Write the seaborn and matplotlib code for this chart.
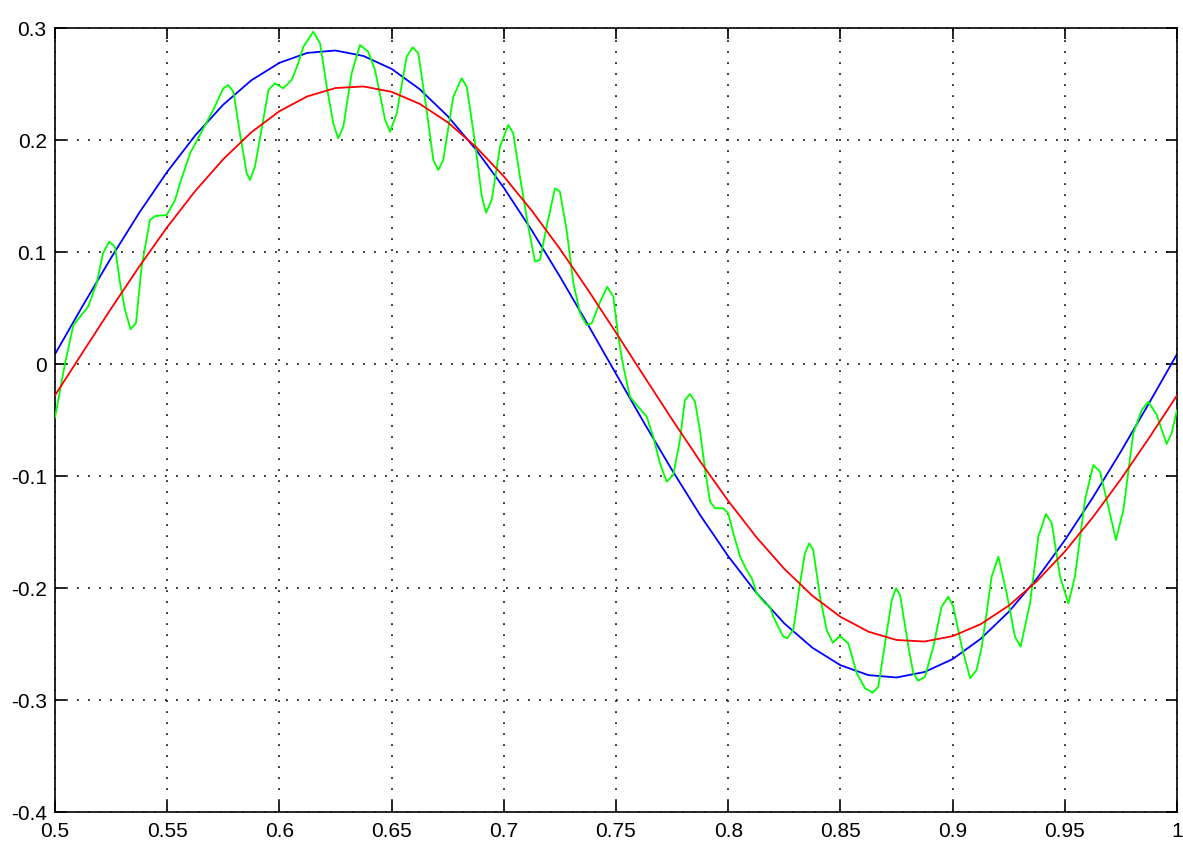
import matplotlib
matplotlib.use("Agg")
import matplotlib.pyplot as plt
import numpy as np
import seaborn as sns

# values
t_smooth = [0.5 + k * 0.0125 for k in range(41)]

blue_y = [0.0088, 0.0525, 0.0948, 0.1349, 0.1716, 0.2041, 0.2316, 0.2533,
          0.2689, 0.2778, 0.2799, 0.2750, 0.2635, 0.2454, 0.2213, 0.1917,
          0.1574, 0.1192, 0.0781, 0.0351, -0.0088, -0.0525, -0.0948, -0.1349,
          -0.1716, -0.2041, -0.2316, -0.2533, -0.2689, -0.2778, -0.2799,
          -0.2750, -0.2635, -0.2454, -0.2213, -0.1917, -0.1574, -0.1192,
          -0.0781, -0.0351, 0.0088]

red_y = [-0.0280, 0.0109, 0.0495, 0.0869, 0.1222, 0.1545, 0.1829, 0.2069,
         0.2257, 0.2390, 0.2464, 0.2478, 0.2430, 0.2323, 0.2158, 0.1940,
         0.1675, 0.1368, 0.1028, 0.0662, 0.0280, -0.0109, -0.0495, -0.0869,
         -0.1222, -0.1545, -0.1829, -0.2069, -0.2257, -0.2390, -0.2464,
         -0.2478, -0.2430, -0.2323, -0.2158, -0.1940, -0.1675, -0.1368,
         -0.1028, -0.0662, -0.0280]

green_t = [0.5000, 0.5045, 0.5082, 0.5148, 0.5186, 0.5214, 0.5242, 0.5267,
           0.5290, 0.5312, 0.5337, 0.5361, 0.5386, 0.5423, 0.5446, 0.5498,
           0.5535, 0.5557, 0.5602, 0.5705, 0.5750, 0.5772, 0.5795, 0.5824,
           0.5854, 0.5869, 0.5891, 0.5928, 0.5951, 0.5980, 0.6017, 0.6055,
           0.6084, 0.6107, 0.6151, 0.6181, 0.6211, 0.6240, 0.6262, 0.6285,
           0.6322, 0.6359, 0.6396, 0.6426, 0.6441, 0.6471, 0.6493, 0.6523,
           0.6567, 0.6594, 0.6619, 0.6656, 0.6686, 0.6708, 0.6730, 0.6775,
           0.6812, 0.6835, 0.6872, 0.6902, 0.6921, 0.6946, 0.6983, 0.7020,
           0.7042, 0.7072, 0.7109, 0.7139, 0.7161, 0.7191, 0.7228, 0.7250,
           0.7280, 0.7310, 0.7340, 0.7369, 0.7392, 0.7429, 0.7461, 0.7488,
           0.7510, 0.7533, 0.7562, 0.7592, 0.7637, 0.7666, 0.7696, 0.7726,
           0.7755, 0.7785, 0.7807, 0.7830, 0.7852, 0.7874, 0.7897, 0.7919,
           0.7941, 0.7978, 0.8000, 0.8023, 0.8053, 0.8082, 0.8105, 0.8127,
           0.8164, 0.8186, 0.8201, 0.8223, 0.8246, 0.8263, 0.8290, 0.8320,
           0.8342, 0.8361, 0.8379, 0.8409, 0.8439, 0.8466, 0.8498, 0.8535,
           0.8573, 0.8610, 0.8644, 0.8669, 0.8706, 0.8729, 0.8748, 0.8766,
           0.8803, 0.8825, 0.8847, 0.8877, 0.8914, 0.8951, 0.8981, 0.9003,
           0.9041, 0.9078, 0.9107, 0.9130, 0.9174, 0.9204, 0.9241, 0.9278,
           0.9303, 0.9345, 0.9382, 0.9416, 0.9442, 0.9479, 0.9516, 0.9545,
           0.9590, 0.9627, 0.9657, 0.9694, 0.9728, 0.9761, 0.9805, 0.9843,
           0.9872, 0.9910, 0.9932, 0.9954, 0.9976, 1.0000]

green_y = [-0.0480, 0.0009, 0.0348, 0.0512, 0.0723, 0.0991, 0.1092, 0.1047,
           0.0723, 0.0482, 0.0310, 0.0366, 0.0869, 0.1286, 0.1321, 0.1330,
           0.1464, 0.1613, 0.1881, 0.2268, 0.2462, 0.2491, 0.2431, 0.2060,
           0.1703, 0.1643, 0.1762, 0.2179, 0.2446, 0.2506, 0.2462, 0.2536,
           0.2685, 0.2833, 0.2967, 0.2863, 0.2476, 0.2149, 0.2015, 0.2119,
           0.2596, 0.2848, 0.2788, 0.2625, 0.2476, 0.2179, 0.2074, 0.2238,
           0.2744, 0.2828, 0.2774, 0.2268, 0.1821, 0.1732, 0.1821, 0.2387,
           0.2551, 0.2476, 0.1971, 0.1494, 0.1351, 0.1464, 0.1940, 0.2134,
           0.2060, 0.1672, 0.1226, 0.0915, 0.0929, 0.1226, 0.1569, 0.1539,
           0.1196, 0.0721, 0.0453, 0.0348, 0.0363, 0.0556, 0.0690, 0.0601,
           0.0244, -0.0024, -0.0292, -0.0366, -0.0471, -0.0649, -0.0887, -0.1051,
           -0.0991, -0.0679, -0.0321, -0.0268, -0.0337, -0.0589, -0.0946, -0.1229,
           -0.1288, -0.1288, -0.1333, -0.1512, -0.1721, -0.1839, -0.1913, -0.2048,
           -0.2137, -0.2167, -0.2256, -0.2346, -0.2435, -0.2449, -0.2375, -0.1958,
           -0.1690, -0.1601, -0.1661, -0.2078, -0.2375, -0.2488, -0.2429, -0.2494,
           -0.2762, -0.2896, -0.2935, -0.2881, -0.2404, -0.2107, -0.2003, -0.2063,
           -0.2524, -0.2762, -0.2828, -0.2792, -0.2524, -0.2167, -0.2078, -0.2167,
           -0.2524, -0.2806, -0.2732, -0.2524, -0.1899, -0.1721, -0.2047, -0.2435,
           -0.2524, -0.2137, -0.1542, -0.1339, -0.1422, -0.1899, -0.2137, -0.1899,
           -0.1214, -0.0902, -0.0962, -0.1274, -0.1571, -0.1304, -0.0619, -0.0411,
           -0.0337, -0.0455, -0.0589, -0.0714, -0.0619, -0.0411]

x_ticks = [0.5, 0.55, 0.6, 0.65, 0.7, 0.75, 0.8, 0.85, 0.9, 0.95, 1.0]
x_labels = ["0.5", "0.55", "0.6", "0.65", "0.7", "0.75", "0.8", "0.85", "0.9", "0.95", "1"]
y_ticks = [-0.4, -0.3, -0.2, -0.1, 0.0, 0.1, 0.2, 0.3]
y_labels = ["-0.4", "-0.3", "-0.2", "-0.1", "0", "0.1", "0.2", "0.3"]

sns.set_style("white")
plt.rcParams["font.family"] = ["Liberation Sans", "DejaVu Sans"]

fig = plt.figure(figsize=(11.83, 8.44), dpi=100)
ax = fig.add_axes([55 / 1183, 1 - 812 / 844, 1122 / 1183, 784 / 844])

sns.lineplot(x=green_t, y=green_y, color="#00ff00", linewidth=1.3,
             estimator=None, ax=ax, zorder=3)
sns.lineplot(x=t_smooth, y=red_y, color="#ff0000", linewidth=1.3,
             estimator=None, ax=ax, zorder=4)
sns.lineplot(x=t_smooth, y=blue_y, color="#0000ff", linewidth=1.3,
             estimator=None, ax=ax, zorder=2)

ax.set_xlim(0.5, 1.0)
ax.set_ylim(-0.4, 0.3)
ax.set_xticks(x_ticks)
ax.set_xticklabels(x_labels)
ax.set_yticks(y_ticks)
ax.set_yticklabels(y_labels)

# matlab style dotted grid
ax.grid(True, color="black", linestyle=(0, (1.2, 6)), linewidth=1.1)
ax.set_axisbelow(True)
for s in ax.spines.values():
    s.set_visible(True)
    s.set_color("black")
    s.set_linewidth(1.2)

ax.tick_params(direction="in", length=8, width=1.2, colors="black",
               labelsize=15, bottom=True, left=True, top=True, right=True, pad=6)
ax.tick_params(axis="x", pad=7)

fig.savefig("out.png", dpi=100, facecolor="white")
